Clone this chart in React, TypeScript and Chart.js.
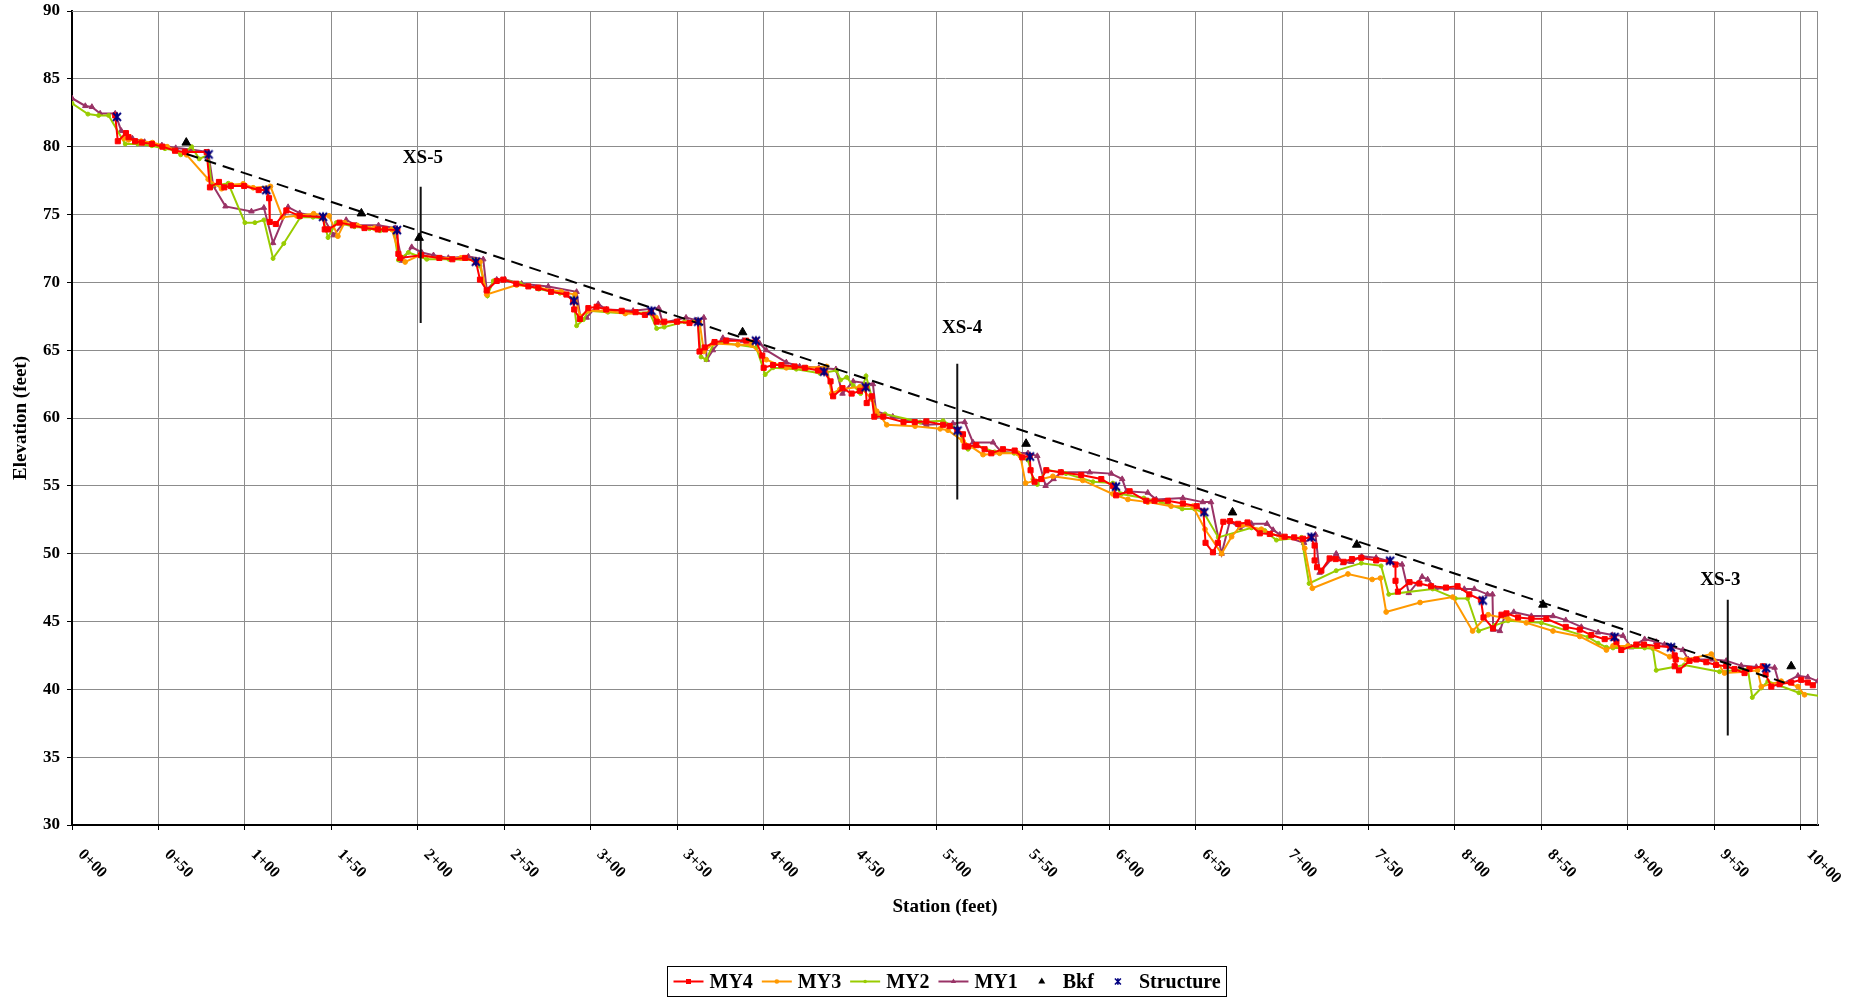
import { useEffect, useRef } from "react";
import { Chart, registerables } from "chart.js";

Chart.register(...registerables);

type Pt = [number, number];

// Axis ranges and station tick labels
const STATION_MIN = 0;
const STATION_MAX = 1010;
const ELEV_MIN = 30;
const ELEV_MAX = 90;
const ELEV_STEP = 5;
const STATION_TICKS = [0, 50, 100, 150, 200, 250, 300, 350, 400, 450, 500, 550, 600, 650, 700, 750, 800, 850, 900, 950, 1000];
const STATION_LABELS = ["0+00", "0+50", "1+00", "1+50", "2+00", "2+50", "3+00", "3+50", "4+00", "4+50", "5+00", "5+50", "6+00", "6+50", "7+00", "7+50", "8+00", "8+50", "9+00", "9+50", "10+00"];

// Thalweg profiles, [station (ft), elevation (ft)]
const MY4: Pt[] = [
  [25, 82.3], [26.5, 80.4], [31.2, 81.0], [32.7, 80.7], [36.5, 80.4], [40.4, 80.3], [46.2, 80.2], [52.3, 80.0], [59.6, 79.7], [65.4, 79.6],
  [77.9, 79.6], [79.8, 77.0], [85, 77.4], [88.1, 77.0], [91.9, 77.1], [99.6, 77.1], [108, 76.8], [112.5, 76.8], [114, 76.2], [114.4, 74.45],
  [117.9, 74.3], [124, 75.3], [131.7, 74.9], [145.2, 74.8], [146.2, 73.9], [148.1, 73.9], [154.8, 74.4], [162.5, 74.2], [169.2, 74.0], [176.9, 73.9],
  [181.1, 73.9], [188.2, 73.85], [188.8, 72.1], [189.8, 71.8], [201.9, 72.0], [212.5, 71.8], [220, 71.7], [227.4, 71.8], [233.7, 71.5], [236, 70.2],
  [239.9, 69.4], [245.7, 70.1], [249.5, 70.2], [257, 69.9], [264, 69.7], [269.7, 69.6], [277.1, 69.3], [286, 69.1], [289.9, 68.6], [290.5, 68.0],
  [293.8, 67.3], [298.7, 68.1], [303.5, 68.2], [309, 68.0], [318, 67.9], [326, 67.8], [331.4, 67.6], [334.9, 67.8], [338.2, 67.1], [342.6, 67.1],
  [350, 67.1], [357.2, 67.0], [362, 67.1], [363, 64.9], [366, 65.2], [371.7, 65.6], [378.4, 65.7], [390, 65.7], [395.5, 65.7], [399.3, 64.6],
  [400.1, 63.7], [405.5, 63.9], [410.3, 63.9], [418, 63.8], [423.9, 63.7], [431.6, 63.5], [435.1, 63.4], [438.8, 62.7], [440.3, 61.6], [445.7, 62.2],
  [451, 61.8], [455.8, 62.0], [459.1, 62.3], [459.7, 61.1], [462.6, 61.6], [464.1, 60.1], [469.3, 60.1], [481, 59.7], [487.5, 59.7], [494.2, 59.75],
  [503.9, 59.5], [507.7, 59.4], [512.1, 59.1], [515.4, 58.8], [516.4, 57.9], [518.3, 57.9], [523.1, 58.0], [527.9, 57.7], [531.8, 57.4], [538.5, 57.7],
  [545.3, 57.6], [549.7, 57.1], [554, 57.2], [554.5, 56.15], [556.8, 55.3], [560.7, 55.5], [563.6, 56.15], [572, 56.0], [583.8, 55.8], [595.4, 55.5],
  [602.1, 55.0], [604, 54.3], [611.8, 54.6], [621.4, 53.9], [626.2, 53.9], [633.9, 53.9], [642.6, 53.7], [650.6, 53.5], [654.5, 53.1], [655.7, 50.8],
  [660, 50.1], [662.8, 50.8], [666, 52.35], [669.8, 52.4], [674.6, 52.2], [680, 52.3], [687.1, 51.5], [692.9, 51.45], [701.5, 51.25], [707, 51.2],
  [712.1, 51.1], [716.5, 51.2], [718.8, 50.6], [718.8, 49.5], [720.2, 49.0], [722.7, 48.75], [727.5, 49.65], [731, 49.6], [735.6, 49.4], [740.4, 49.6],
  [745.8, 49.7], [754.4, 49.5], [761.7, 49.45], [765.6, 49.2], [765.6, 48.0], [767, 47.2], [773.7, 47.9], [779.4, 47.8], [786.2, 47.6], [794.8, 47.5],
  [801.5, 47.6], [808.3, 47.0], [815, 46.6], [816.5, 45.3], [822, 44.5], [826.9, 45.5], [829.8, 45.6], [836.5, 45.3], [844.2, 45.2], [852.9, 45.2],
  [864.1, 44.6], [872.2, 44.4], [878.9, 44.0], [886.6, 43.7], [892, 43.8], [893.4, 43.5], [896.2, 42.9], [904.9, 43.3], [909.3, 43.3], [917, 43.2],
  [924.6, 43.1], [927.1, 42.5], [927.7, 42.2], [927.1, 41.7], [929.6, 41.4], [935.7, 42.1], [939.6, 42.2], [945.4, 42.0], [951, 41.8], [956.9, 41.7],
  [961.7, 41.5], [967.5, 41.2], [970.4, 41.5], [978.1, 41.7], [979.7, 41.1], [983, 40.2], [987.8, 40.4], [994.5, 40.5], [1000.3, 40.7], [1004.1, 40.5],
  [1007, 40.3],
];

const MY3: Pt[] = [
  [30, 80.6], [32.7, 80.5], [40, 80.4], [46.5, 80.3], [55, 80.0], [66.3, 79.4], [78.8, 77.6], [86.5, 76.9], [92, 77.2], [99, 77.26],
  [104.8, 76.97], [114.8, 77.07], [121.7, 74.8], [130, 74.9], [139.8, 75.06], [148.7, 74.9], [153.8, 73.4], [157.7, 74.4], [165, 74.2], [175, 74.0],
  [185, 73.9], [189.8, 71.9], [192.7, 71.5], [201.3, 72.0], [212, 71.8], [225, 71.8], [234, 71.6], [236, 71.5], [239.9, 69.1], [257.2, 69.8],
  [270, 69.6], [283, 69.3], [290.9, 69.1], [293.8, 67.5], [298.7, 67.9], [309.2, 67.9], [320, 67.7], [335.3, 67.7], [337.8, 67.4], [342, 67.0],
  [350, 67.1], [363, 67.1], [365.5, 64.9], [371, 65.5], [385.2, 65.4], [392.9, 65.4], [401.6, 64.3], [413.2, 63.7], [425, 63.7], [436.5, 63.8],
  [439.4, 61.8], [444.2, 62.1], [455.8, 62.3], [462.6, 61.4], [465.5, 60.5], [471.3, 59.5], [487.7, 59.4], [502.2, 59.2], [506.7, 59.1], [515.4, 58.3],
  [527, 57.3], [536.6, 57.4], [547.2, 57.4], [548.6, 57.2], [551.6, 55.2], [567.4, 55.7], [584.7, 55.4], [602.1, 54.4], [610.8, 54.0], [622.3, 53.8],
  [635.8, 53.5], [648.4, 53.5], [655.4, 51.8], [665, 50.0], [670.8, 51.25], [676.5, 52.1], [688, 51.8], [699.6, 51.2], [711, 51.1], [713.1, 50.4],
  [717.5, 47.45], [738.1, 48.5], [752.1, 48.1], [756.9, 48.2], [760.2, 45.7], [779.8, 46.4], [798.7, 46.8], [810.2, 44.3], [819.2, 45.5], [830.7, 45.2],
  [841.3, 44.9], [856.7, 44.3], [872.2, 43.9], [887.6, 42.9], [891.4, 43.2], [900, 43.2], [909.7, 43.3], [924.2, 42.4], [933.8, 42.2], [948.3, 42.6],
  [955.9, 41.2], [968.5, 41.3], [975, 41.4], [977.2, 40.2], [988.7, 40.6], [998.4, 40.2], [1002.2, 39.6],
];

const MY2: Pt[] = [
  [0, 83.2], [9.2, 82.4], [15.4, 82.3], [21.2, 82.3], [30.8, 80.2], [38, 80.2], [46.2, 80.07], [53.8, 79.85], [58.7, 79.76], [62.9, 79.4],
  [69.2, 80.0], [73.6, 79.1], [78.8, 79.4], [80.8, 77.1], [90.4, 77.3], [100, 74.4], [105.8, 74.4], [111, 74.6], [116.3, 71.76], [122.5, 72.86],
  [132.1, 74.8], [139.4, 74.8], [145.2, 74.7], [148.1, 73.3], [152.9, 74.4], [163.5, 74.1], [172.1, 73.96], [178.2, 73.8], [186, 73.9], [188.8, 71.65],
  [194.6, 72.2], [205.2, 71.7], [218, 71.7], [232.2, 71.65], [236, 71.2], [240.3, 69.0], [243.7, 70.1], [249.5, 70.2], [259.2, 69.9], [270, 69.5],
  [282.3, 69.2], [290, 68.8], [291.9, 66.8], [295.8, 67.25], [298.7, 67.9], [310, 67.8], [320.4, 67.7], [334, 67.8], [338.2, 66.6], [342.6, 66.7],
  [354.3, 67.1], [362, 67.2], [363.9, 64.5], [366.8, 64.3], [371.7, 65.6], [385, 65.4], [395.8, 65.2], [401, 63.2], [405.5, 63.7], [419, 63.6],
  [432.6, 63.3], [442.3, 63.5], [444.6, 62.8], [448.1, 63.0], [451.9, 62.4], [456.2, 61.8], [459.3, 63.1], [465.5, 60.2], [470.3, 60.3], [490.6, 59.7],
  [503.9, 59.8], [512, 59.2], [518.3, 57.7], [523, 58.0], [533.7, 57.5], [545, 57.4], [553, 56.9], [555.9, 55.5], [558.4, 55.1], [563.6, 56.2],
  [575, 55.9], [590.6, 55.3], [602.1, 55.2], [607, 54.4], [620, 54.1], [630, 53.8], [642.2, 53.3], [649.3, 53.3], [654.8, 53.0], [663.1, 51.2],
  [682.3, 51.9], [690, 51.7], [696.7, 51.0], [711.2, 51.2], [715.6, 47.8], [731.3, 48.75], [745.8, 49.3], [757.3, 49.1], [761.7, 47.0], [787.1, 47.4],
  [800.2, 46.7], [807.3, 46.7], [813.7, 44.3], [822.7, 44.7], [830.7, 45.05], [850, 44.9], [877, 43.85], [882.8, 43.4], [887.6, 43.1], [891.4, 43.05],
  [909.7, 43.05], [914.5, 43.0], [916.4, 41.4], [932.7, 41.8], [953, 41.3], [969.4, 41.5], [972, 39.4], [977.2, 40.1], [981, 40.6], [998.9, 39.75],
  [1011.3, 39.5],
];

const MY1: Pt[] = [
  [0, 83.57], [7.7, 83.0], [11.5, 82.93], [16.3, 82.44], [25, 82.44], [28.5, 81.17], [35, 80.6], [42, 80.35], [52, 80.1], [60, 79.9],
  [69, 79.8], [78.8, 79.6], [81.7, 77.1], [88.8, 75.6], [103.8, 75.23], [111, 75.5], [116.3, 72.9], [125, 75.55], [131.7, 75.1], [145.2, 74.8],
  [151.3, 73.47], [158.6, 74.6], [164.4, 74.2], [177.3, 74.2], [186.9, 74.0], [190.8, 71.6], [196.5, 72.6], [202.3, 72.2], [209.1, 72.0], [217.7, 71.8],
  [229.3, 71.9], [237.9, 71.7], [239.9, 69.45], [245.7, 70.2], [250.5, 70.2], [260.1, 69.9], [275.5, 69.7], [291.9, 69.3], [294.2, 67.3], [297.7, 67.4],
  [304.4, 68.4], [309.2, 68.0], [324.6, 67.9], [339.4, 68.1], [341.7, 67.0], [355.2, 67.4], [361, 67.2], [365.5, 67.4], [367.2, 64.3], [370.7, 65.0],
  [376.5, 65.9], [388.1, 65.7], [397.8, 65.5], [401.6, 65.0], [413.2, 64.1], [420.9, 63.8], [432, 63.7], [441.9, 63.6], [445.7, 61.8], [451.9, 62.7],
  [463.3, 62.5], [465.1, 60.5], [474.8, 60.1], [494.2, 59.5], [509.6, 59.6], [516.4, 59.7], [521.2, 58.2], [532.8, 58.2], [537.6, 57.5], [553, 57.4],
  [558.4, 57.2], [563.2, 55.0], [567.8, 55.5], [572.3, 56.0], [588.7, 56.0], [601.2, 55.9], [607.5, 55.5], [610, 54.6], [622.3, 54.5], [627.2, 54.0],
  [642.6, 54.1], [654.1, 53.8], [658.9, 53.8], [665, 50.0], [669.8, 52.4], [675.6, 51.9], [682.3, 52.2], [691.3, 52.2], [694.8, 51.75], [698.7, 51.4],
  [712.7, 50.8], [719.3, 51.4], [721.7, 48.6], [731.3, 50.0], [735.2, 49.3], [740, 49.4], [746, 49.8], [754.4, 49.7], [769.4, 49.2], [773.3, 47.1],
  [781, 48.3], [784.2, 48.1], [788.7, 47.45], [805.4, 47.4], [811.2, 47.4], [818.8, 47.0], [821.7, 47.0], [822.1, 44.4], [826, 44.3], [828.8, 45.4],
  [834, 45.7], [844.2, 45.4], [856.7, 45.4], [864.1, 45.1], [873.1, 44.6], [882.8, 44.2], [891, 44.0], [897.2, 43.95], [902, 43.1], [909.7, 43.7],
  [916.4, 43.5], [921.2, 43.3], [931.8, 42.9], [935, 42.2], [940.6, 42.2], [949.2, 42.2], [956.9, 42.1], [965.6, 41.75], [974.3, 41.65], [984.9, 41.6],
  [987.8, 40.3], [998.4, 41.0], [1004.1, 40.9], [1009.9, 40.6],
];

// Bankfull indicators and grade-control structures
const BKF: Pt[] = [
  [66.1, 80.3], [167.4, 75.08], [200.8, 73.28], [387.9, 66.32], [551.9, 58.1], [671.3, 53.04], [743.2, 50.66], [850.9, 46.24], [994.5, 41.7],
];
const STRUCTURE: Pt[] = [
  [26, 82.2], [79, 79.43], [112.4, 76.8], [145.2, 74.83], [188, 73.85], [233.6, 71.52], [290.4, 68.65], [335.2, 67.9], [362.2, 67.1], [395.6, 65.7],
  [435.1, 63.42], [459.1, 62.27], [512.3, 59.07], [554.2, 57.16], [603.9, 54.95], [655, 53.06], [717, 51.22], [762.5, 49.48], [816.1, 46.55], [892.3, 43.86],
  [925, 43.1], [980, 41.57],
];

// Bankfull slope line
const BKF_SLOPE: Pt[] = [[66.3, 79.46], [990.7, 40.49]];

// Cross-section locations
const XS_NAMES = ["XS-5", "XS-4", "XS-3"];
const XS_STATION = [201.7, 512.1, 957.8];
const XS_TOP = [77.05, 64.0, 46.6];
const XS_BOTTOM = [67.0, 54.0, 36.6];
const XS_LABEL_STATION = [203, 514.9, 953.5];
const XS_LABEL_ELEV = [79.15, 66.63, 48.05];

const FONT = "'Liberation Serif', 'Times New Roman', serif";
const RED = "#FF0000";
const ORANGE = "#FF9900";
const GREEN = "#99CC00";
const PURPLE = "#993366";
const NAVY = "#000080";
const GRID = "#8c8c8c";

const toXY = (pts: Pt[]) => pts.map(([x, y]) => ({ x, y }));

function drawStar(ctx: CanvasRenderingContext2D, cx: number, cy: number, r: number, color: string, width: number) {
  ctx.save();
  ctx.strokeStyle = color;
  ctx.lineWidth = width;
  ctx.beginPath();
  ctx.moveTo(cx - r, cy - r);
  ctx.lineTo(cx + r, cy + r);
  ctx.moveTo(cx - r, cy + r);
  ctx.lineTo(cx + r, cy - r);
  ctx.moveTo(cx, cy - r * 1.1);
  ctx.lineTo(cx, cy + r * 1.1);
  ctx.stroke();
  ctx.restore();
}

function makeStarImage(): HTMLCanvasElement {
  const c = document.createElement("canvas");
  c.width = 12;
  c.height = 12;
  const g = c.getContext("2d")!;
  drawStar(g, 6, 6, 4, NAVY, 2);
  return c;
}

function drawMarker(ctx: CanvasRenderingContext2D, kind: string, x: number, y: number, r: number, color: string) {
  ctx.save();
  ctx.fillStyle = color;
  ctx.beginPath();
  if (kind === "rect") {
    ctx.rect(x - r, y - r, 2 * r, 2 * r);
  } else if (kind === "circle") {
    ctx.arc(x, y, r, 0, Math.PI * 2);
  } else if (kind === "triangle") {
    ctx.moveTo(x, y - r);
    ctx.lineTo(x + r * 0.87, y + r * 0.5);
    ctx.lineTo(x - r * 0.87, y + r * 0.5);
    ctx.closePath();
  }
  ctx.fill();
  ctx.restore();
}

const LEGEND_ITEMS = [
  { label: "MY4", color: RED, line: true, marker: "rect", r: 2.5 },
  { label: "MY3", color: ORANGE, line: true, marker: "circle", r: 2.3 },
  { label: "MY2", color: GREEN, line: true, marker: "circle", r: 1.8 },
  { label: "MY1", color: PURPLE, line: true, marker: "triangle", r: 3 },
  { label: "Bkf", color: "#000", line: false, marker: "triangle", r: 4 },
  { label: "Structure", color: NAVY, line: false, marker: "star", r: 3 },
];

const decorPlugin = {
  id: "profileDecor",
  beforeDatasetsDraw(chart: any) {
    const { ctx, chartArea } = chart;
    const { left, top, right, bottom } = chartArea;
    ctx.save();
    ctx.strokeStyle = GRID;
    ctx.lineWidth = 1;
    ctx.beginPath();
    ctx.moveTo(left, top + 0.5);
    ctx.lineTo(right - 0.5, top + 0.5);
    ctx.lineTo(right - 0.5, bottom);
    ctx.stroke();
    ctx.restore();
  },
  afterDraw(chart: any) {
    const { ctx, chartArea, scales } = chart;
    const xs = scales.x;
    const ys = scales.y;
    ctx.save();
    ctx.fillStyle = "#000";

    // rotated station labels
    ctx.font = `bold 16px ${FONT}`;
    ctx.textAlign = "left";
    ctx.textBaseline = "middle";
    STATION_TICKS.forEach((v, i) => {
      const px = xs.getPixelForValue(v);
      ctx.save();
      ctx.translate(px + 8.5, chartArea.bottom + 27);
      ctx.rotate(Math.PI / 4);
      ctx.fillText(STATION_LABELS[i], 0, 0);
      ctx.restore();
    });

    // axis titles
    ctx.font = `bold 19px ${FONT}`;
    ctx.textAlign = "center";
    ctx.textBaseline = "middle";
    ctx.fillText("Station (feet)", (chartArea.left + chartArea.right) / 2, 907);
    ctx.save();
    ctx.translate(21.5, (chartArea.top + chartArea.bottom) / 2);
    ctx.rotate(-Math.PI / 2);
    ctx.fillText("Elevation (feet)", 0, 0);
    ctx.restore();

    // cross-section labels
    XS_NAMES.forEach((name, i) => {
      ctx.fillText(name, xs.getPixelForValue(XS_LABEL_STATION[i]), ys.getPixelForValue(XS_LABEL_ELEV[i]));
    });

    // legend
    ctx.font = `bold 20px ${FONT}`;
    const slot = 30;
    const gapIn = 6;
    const gapOut = 9;
    const widths = LEGEND_ITEMS.map((it) => ctx.measureText(it.label).width);
    let total = 0;
    widths.forEach((w, i) => {
      total += slot + gapIn + w + (i < widths.length - 1 ? gapOut : 0);
    });
    const pad = 6;
    const cx = 947;
    const boxLeft = Math.round(cx - total / 2 - pad) + 0.5;
    const boxW = Math.round(total + 2 * pad);
    const boxTop = 966.5;
    const boxH = 30;
    ctx.strokeStyle = "#000";
    ctx.lineWidth = 1;
    ctx.strokeRect(boxLeft, boxTop, boxW, boxH);
    const midY = boxTop + boxH / 2;
    let x = boxLeft + pad;
    ctx.textAlign = "left";
    LEGEND_ITEMS.forEach((it, i) => {
      const mx = x + slot / 2;
      if (it.line) {
        ctx.strokeStyle = it.color;
        ctx.lineWidth = 2;
        ctx.beginPath();
        ctx.moveTo(x, midY);
        ctx.lineTo(x + slot, midY);
        ctx.stroke();
      }
      if (it.marker === "star") {
        drawStar(ctx, mx, midY, it.r, it.color, 1.6);
      } else {
        drawMarker(ctx, it.marker, mx, midY, it.r, it.color);
      }
      ctx.fillStyle = "#000";
      ctx.fillText(it.label, x + slot + gapIn, midY + 1);
      x += slot + gapIn + widths[i] + gapOut;
    });
    ctx.restore();
  },
};

export default function App() {
  const canvasRef = useRef<HTMLCanvasElement>(null);

  useEffect(() => {
    const canvas = canvasRef.current;
    if (!canvas) return;
    const star = makeStarImage();

    const profile = (label: string, pts: Pt[], color: string, style: string, radius: number) => ({
      label,
      data: toXY(pts),
      borderColor: color,
      backgroundColor: color,
      borderWidth: 2,
      pointStyle: style,
      pointRadius: radius,
      pointBorderWidth: 1,
      pointBorderColor: color,
      pointBackgroundColor: color,
      fill: false,
      tension: 0,
    });

    const xsLines = XS_NAMES.map((name, i) => ({
      label: name,
      data: [
        { x: XS_STATION[i], y: XS_TOP[i] },
        { x: XS_STATION[i], y: XS_BOTTOM[i] },
      ],
      borderColor: "#111",
      borderWidth: 2,
      pointRadius: 0,
      fill: false,
    }));

    const chart = new Chart(canvas, {
      type: "line",
      data: {
        datasets: [
          {
            label: "Structure",
            data: toXY(STRUCTURE),
            showLine: false,
            pointStyle: star as any,
            pointRadius: 6,
            borderColor: NAVY,
            backgroundColor: NAVY,
          },
          {
            label: "Bkf",
            data: toXY(BKF),
            showLine: false,
            pointStyle: "triangle",
            pointRadius: 5,
            borderColor: "#000",
            backgroundColor: "#000",
            pointBorderWidth: 1,
          },
          {
            label: "Bkf slope",
            data: toXY(BKF_SLOPE),
            borderColor: "#000",
            borderWidth: 2,
            borderDash: [12, 7],
            pointRadius: 0,
            fill: false,
          },
          ...xsLines,
          profile("MY4", MY4, RED, "rect", 3.6),
          profile("MY3", MY3, ORANGE, "circle", 2.4),
          profile("MY2", MY2, GREEN, "circle", 2),
          profile("MY1", MY1, PURPLE, "triangle", 3.2),
        ] as any,
      },
      options: {
        responsive: false,
        animation: false,
        devicePixelRatio: 1,
        events: [],
        layout: { padding: { left: 0, top: 11, right: 44, bottom: 0 } },
        plugins: {
          legend: { display: false },
          tooltip: { enabled: false },
          title: { display: false },
        },
        scales: {
          x: {
            type: "linear",
            min: STATION_MIN,
            max: STATION_MAX,
            ticks: { stepSize: 50, display: false, includeBounds: false },
            grid: { color: GRID, lineWidth: 1, tickLength: 5, tickColor: "#000" },
            border: { color: "#000", width: 2 },
            afterFit: (s: any) => {
              s.height = 175;
            },
          },
          y: {
            type: "linear",
            min: ELEV_MIN,
            max: ELEV_MAX,
            ticks: {
              stepSize: ELEV_STEP,
              color: "#000",
              padding: 7,
              font: { family: FONT, size: 17, weight: "bold", lineHeight: 0.4 },
            },
            grid: { color: GRID, lineWidth: 1, tickLength: 5, tickColor: "#000" },
            border: { color: "#000", width: 2 },
            afterFit: (s: any) => {
              s.width = 72;
            },
          },
        },
      } as any,
      plugins: [decorPlugin],
    });

    return () => chart.destroy();
  }, []);

  return (
    <div style={{ position: "fixed", left: 0, top: 0, width: 1862, height: 1000, background: "#fff" }}>
      <canvas ref={canvasRef} width={1862} height={1000} style={{ display: "block", width: 1862, height: 1000 }} />
    </div>
  );
}
